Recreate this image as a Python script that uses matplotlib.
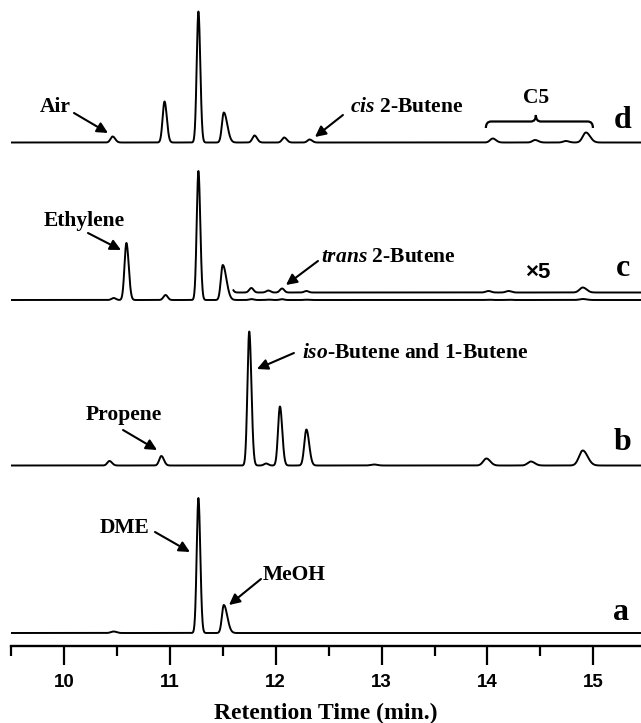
"""
GC traces a-d, stacked, with peak labels.
"""
import numpy as np
import matplotlib.pyplot as plt
from matplotlib.path import Path
from matplotlib.patches import PathPatch

plt.rcParams["mathtext.fontset"] = "custom"
plt.rcParams["mathtext.rm"] = "Liberation Serif:bold"
plt.rcParams["mathtext.it"] = "Liberation Serif:italic:bold"

# ── Peak tables (retention time in min, height in arbitrary units) ───────────
a_rt     = [10.47, 11.27, 11.51]
a_height = [1.5, 135.0, 28.0]
a_sigma  = [0.025, 0.016, 0.018]
a_tail   = [1.0, 1.1, 1.8]

b_rt     = [10.43, 10.92, 11.75, 11.91, 12.04, 12.29, 12.93, 13.99, 14.41, 14.90]
b_height = [4.5, 9.5, 134.0, 2.0, 59.0, 36.0, 1.0, 7.0, 4.0, 15.0]
b_sigma  = [0.02, 0.02, 0.017, 0.02, 0.018, 0.02, 0.03, 0.03, 0.03, 0.035]
b_tail   = [1.2, 1.2, 1.2, 1.0, 1.2, 1.3, 1.0, 1.2, 1.2, 1.3]

c_rt     = [10.47, 10.59, 10.96, 11.27, 11.50, 11.77, 11.93, 12.06, 12.29,
            14.01, 14.20, 14.90]
c_height = [2.0, 57.0, 5.0, 129.0, 35.0, 0.9, 0.4, 0.8, 0.3, 0.3, 0.3, 1.0]
c_sigma  = [0.02, 0.018, 0.02, 0.016, 0.018, 0.02, 0.02, 0.02, 0.02,
            0.025, 0.025, 0.03]
c_tail   = [1.0, 1.2, 1.0, 1.1, 1.9, 1.0, 1.0, 1.0, 1.0, 1.0, 1.0, 1.2]
c_zoom_start = 11.60
c_zoom_factor = 5

d_rt     = [10.46, 10.95, 11.27, 11.51, 11.80, 12.08, 12.32, 14.05, 14.45,
            14.74, 14.93]
d_height = [6.0, 41.0, 131.0, 30.0, 7.0, 5.0, 3.0, 4.0, 2.5, 1.5, 10.0]
d_sigma  = [0.02, 0.018, 0.016, 0.018, 0.02, 0.02, 0.02, 0.025, 0.025,
            0.025, 0.03]
d_tail   = [1.2, 1.2, 1.1, 1.8, 1.2, 1.2, 1.2, 1.2, 1.2, 1.2, 1.3]

x_ticks = [10, 11, 12, 13, 14, 15]

# vertical offset of each trace on the shared axis
OFFSET = {"a": 13.0, "b": 180.5, "c": 346.0, "d": 503.5}
OFFSET_X5 = 353.5


def chromatogram(t, rt, height, sigma, tail):
    y = np.zeros_like(t)
    for r, h, s, k in zip(rt, height, sigma, tail):
        sd = np.where(t < r, s, s * k)
        y += h * np.exp(-0.5 * ((t - r) / sd) ** 2)
    return y


t = np.linspace(9.5, 15.45, 4000)

fig = plt.figure(figsize=(6.41, 7.23), dpi=100)
ax = fig.add_axes([11 / 641, 1 - 646 / 723, 630 / 641, 646 / 723])

lw = 1.4
ax.plot(t, OFFSET["a"] + chromatogram(t, a_rt, a_height, a_sigma, a_tail), color="k", lw=lw)
ax.plot(t, OFFSET["b"] + chromatogram(t, b_rt, b_height, b_sigma, b_tail), color="k", lw=lw)
c_sig = chromatogram(t, c_rt, c_height, c_sigma, c_tail)
ax.plot(t, OFFSET["c"] + c_sig, color="k", lw=lw)
m = t >= c_zoom_start
ax.plot(t[m], OFFSET_X5 + c_zoom_factor * c_sig[m], color="k", lw=lw)
ax.plot(t, OFFSET["d"] + chromatogram(t, d_rt, d_height, d_sigma, d_tail), color="k", lw=lw)

# ── Labels ───────────────────────────────────────────────────────────────────
serif = dict(family="Liberation Serif", weight="bold", fontsize=15.5)
arrow = dict(arrowstyle="-|>", color="k", lw=1.5, mutation_scale=16,
             shrinkA=0, shrinkB=0)

arrows = [
    ((10.095, 533), (10.416, 513)),   # Air
    ((12.635, 531), (12.371, 509)),   # cis 2-Butene
    ((10.227, 413), (10.539, 396)),   # Ethylene
    ((12.399, 385), (12.097, 361)),   # trans 2-Butene
    ((12.172, 293), (11.823, 277)),   # iso-Butene
    ((10.558, 216), (10.879, 196)),   # Propene
    ((10.860, 114), (11.190, 94)),    # DME
    ((11.861, 67), (11.559, 41)),     # MeOH
]
for tail_xy, tip_xy in arrows:
    ax.annotate("", xy=tip_xy, xytext=tail_xy, arrowprops=arrow)

ax.text(9.915, 539, "Air", ha="center", va="center", **serif)
ax.text(12.70, 539, r"$\mathit{cis}$ 2-Butene", ha="left", va="center", **serif)
ax.text(14.457, 548, "C5", ha="center", va="center", **serif)
ax.text(10.189, 425, "Ethylene", ha="center", va="center", **serif)
ax.text(12.427, 389, r"$\mathit{trans}$ 2-Butene", ha="left", va="center", **serif)
ax.text(14.476, 374, "×5", ha="center", va="center",
        family="Liberation Sans", weight="bold", fontsize=16)
ax.text(12.248, 293, r"$\mathit{iso}$-Butene and 1-Butene", ha="left", va="center", **serif)
ax.text(10.567, 231, "Propene", ha="center", va="center", **serif)
ax.text(10.576, 118, "DME", ha="center", va="center", **serif)
ax.text(11.880, 71, "MeOH", ha="left", va="center", **serif)

for name, (x, y) in {"d": (15.279, 526), "c": (15.279, 378),
                     "b": (15.279, 203), "a": (15.260, 33)}.items():
    ax.text(x, y, name, ha="center", va="center", family="Liberation Serif",
            weight="bold", fontsize=23)

# curly brace over the C5 group
y0, y1, y2 = 518, 524.5, 531
verts = [(13.985, y0), (13.985, y1), (14.035, y1), (14.41, y1),
         (14.457, y1), (14.457, y2), (14.457, y1), (14.505, y1),
         (14.946, y1), (14.996, y1), (14.996, y0)]
codes = [Path.MOVETO, Path.CURVE3, Path.CURVE3, Path.LINETO,
         Path.CURVE3, Path.CURVE3, Path.CURVE3, Path.CURVE3,
         Path.LINETO, Path.CURVE3, Path.CURVE3]
ax.add_patch(PathPatch(Path(verts, codes), fill=False, lw=1.6, color="k"))

# ── Axis ─────────────────────────────────────────────────────────────────────
ax.set_xlim(9.5, 15.45)
ax.set_ylim(0, 646)
for side in ["top", "left", "right"]:
    ax.spines[side].set_visible(False)
ax.spines["bottom"].set_linewidth(1.7)
ax.set_yticks([])
ax.set_xticks(x_ticks)
ax.set_xticks(np.arange(9.5, 15.5, 1.0), minor=True)
ax.tick_params(axis="x", which="major", length=14, width=1.6, pad=6,
               labelsize=13.5)
ax.tick_params(axis="x", which="minor", length=7, width=1.6)
for lab in ax.get_xticklabels():
    lab.set_family("Liberation Sans")
    lab.set_weight("bold")
ax.set_xlabel("Retention Time (min.)", family="Liberation Serif",
              weight="bold", fontsize=17, labelpad=9)

fig.savefig("out.png", dpi=100)
